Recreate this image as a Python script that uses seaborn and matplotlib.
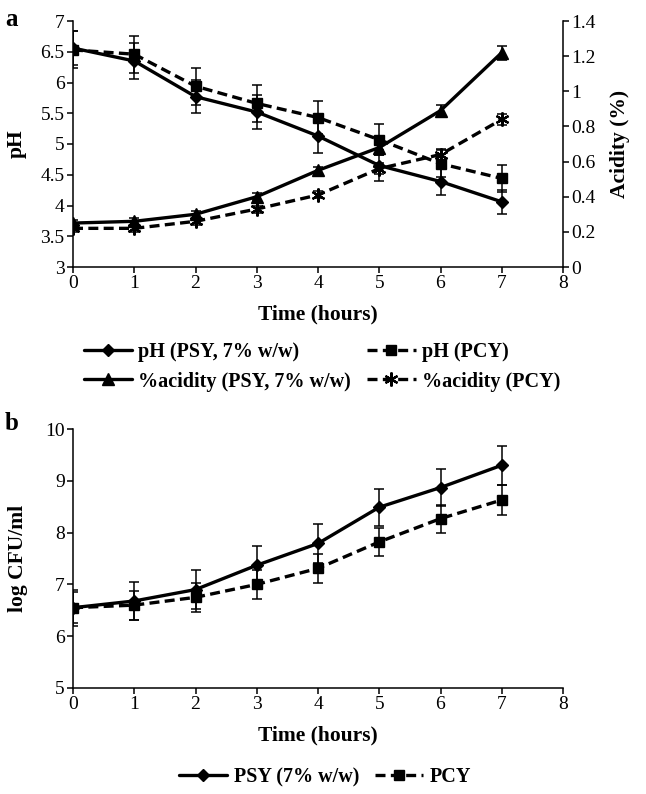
import numpy as np
import pandas as pd
import matplotlib
matplotlib.use("Agg")
import matplotlib.pyplot as plt
import seaborn as sns
from matplotlib.lines import Line2D

sns.set_theme(style="ticks")
plt.rcParams['font.family'] = ['Liberation Serif', 'DejaVu Serif']
for k in ["text.color", "axes.labelcolor", "xtick.color", "ytick.color", "axes.edgecolor"]:
    plt.rcParams[k] = "black"

# ---- data ----
time = [0, 1, 2, 3, 4, 5, 6, 7]

ph_psy = [6.56, 6.35, 5.77, 5.52, 5.13, 4.65, 4.39, 4.06]
ph_psy_err = [0.28, 0.30, 0.27, 0.27, 0.27, 0.25, 0.22, 0.20]
ph_pcy = [6.53, 6.46, 5.94, 5.66, 5.43, 5.07, 4.68, 4.44]
ph_pcy_err = [0.30, 0.30, 0.30, 0.30, 0.27, 0.25, 0.22, 0.22]

ac_psy = [0.25, 0.26, 0.30, 0.40, 0.55, 0.68, 0.89, 1.22]
ac_psy_err = [0.02, 0.02, 0.02, 0.02, 0.02, 0.04, 0.03, 0.04]
ac_pcy = [0.22, 0.22, 0.26, 0.33, 0.41, 0.56, 0.64, 0.84]
ac_pcy_err = [0.02, 0.02, 0.02, 0.02, 0.02, 0.03, 0.03, 0.03]

cfu_psy = [6.55, 6.68, 6.90, 7.37, 7.79, 8.49, 8.87, 9.30]
cfu_psy_err = [0.35, 0.37, 0.37, 0.37, 0.37, 0.36, 0.36, 0.38]
cfu_pcy = [6.55, 6.60, 6.75, 7.00, 7.31, 7.82, 8.27, 8.63]
cfu_pcy_err = [0.30, 0.28, 0.28, 0.28, 0.28, 0.27, 0.27, 0.29]

legend_a = ["pH (PSY, 7% w/w)", "pH (PCY)", "%acidity (PSY, 7% w/w)", "%acidity (PCY)"]
legend_b = ["PSY (7% w/w)", "PCY"]

W, H = 646, 794
fig = plt.figure(figsize=(W / 100, H / 100), dpi=100)

def box(l, t, r, b):
    return [l / W, 1 - b / H, (r - l) / W, (b - t) / H]

ax1 = fig.add_axes(box(73, 21, 563, 267))
ax2 = ax1.twinx()
axb = fig.add_axes(box(73, 429, 563, 688))

LW = 2.4

def series(ax, y, err, marker, dashed, ms, mew=1.0):
    df = pd.DataFrame({"t": time, "v": y})
    ls = (0, (3, 1.6)) if dashed else "-"
    sns.lineplot(data=df, x="t", y="v", ax=ax, color="black", linewidth=LW,
                 linestyle=ls, marker=marker, markersize=ms,
                 markeredgecolor="black", markerfacecolor="black",
                 markeredgewidth=mew, legend=False, zorder=3)
    ax.errorbar(time, y, yerr=err, fmt="none", ecolor="black",
                elinewidth=1.1, capsize=3.5, capthick=1.1, zorder=2)
    return Line2D([0], [0], color="black", linewidth=LW, linestyle=ls,
                  marker=marker, markersize=ms, markeredgecolor="black",
                  markerfacecolor="black", markeredgewidth=mew)

h1 = series(ax1, ph_psy, ph_psy_err, "D", False, 6)
h2 = series(ax1, ph_pcy, ph_pcy_err, "s", True, 7)
h3 = series(ax2, ac_psy, ac_psy_err, "^", False, 8)
h4 = series(ax2, ac_pcy, ac_pcy_err, (6, 2, 0), True, 10, mew=1.6)

hb1 = series(axb, cfu_psy, cfu_psy_err, "D", False, 6)
hb2 = series(axb, cfu_pcy, cfu_pcy_err, "s", True, 7)

tick_fs = 14
lab_fs = 15.5

for ax in (ax1, axb):
    ax.set_xlim(0, 8)
    ax.set_xticks(range(0, 9))
    ax.set_xticklabels([str(i) for i in range(0, 9)], fontsize=tick_fs)
    ax.set_xlabel("Time (hours)", fontsize=lab_fs, fontweight="bold", labelpad=9)
    ax.spines["top"].set_visible(False)
    ax.tick_params(direction="out", length=4, width=1.1, colors="black", pad=2)
    for s in ax.spines.values():
        s.set_linewidth(1.1)
        s.set_color("black")

ax1.set_ylim(3, 7)
ax1.set_yticks([3, 3.5, 4, 4.5, 5, 5.5, 6, 6.5, 7])
ax1.set_yticklabels(["3", "3.5", "4", "4.5", "5", "5.5", "6", "6.5", "7"], fontsize=tick_fs)
ax1.set_ylabel("pH", fontsize=lab_fs, fontweight="bold", labelpad=10)
ax1.spines["right"].set_visible(False)

ax2.set_ylim(0, 1.4)
ax2.set_yticks([0, 0.2, 0.4, 0.6, 0.8, 1.0, 1.2, 1.4])
ax2.set_yticklabels(["0", "0.2", "0.4", "0.6", "0.8", "1", "1.2", "1.4"], fontsize=tick_fs)
ax2.set_ylabel("Acidity (%)", fontsize=lab_fs, fontweight="bold", labelpad=10)
ax2.spines["top"].set_visible(False)
ax2.spines["left"].set_visible(False)
ax2.spines["bottom"].set_visible(False)
ax2.spines["right"].set_linewidth(1.1)
ax2.spines["right"].set_color("black")
ax2.tick_params(direction="out", length=4, width=1.1, colors="black", pad=2)
ax2.set_xlabel("")

axb.set_ylim(5, 10)
axb.set_yticks([5, 6, 7, 8, 9, 10])
axb.set_yticklabels(["5", "6", "7", "8", "9", "10"], fontsize=tick_fs)
axb.set_ylabel("log CFU/ml", fontsize=lab_fs, fontweight="bold", labelpad=12)
axb.spines["right"].set_visible(False)

leg_font = {"size": 14.5, "weight": "bold"}
fig.legend([h1, h3, h2, h4], [legend_a[0], legend_a[2], legend_a[1], legend_a[3]],
           loc="center", ncol=2,
           bbox_to_anchor=(322 / W, 1 - 367 / H), frameon=False, prop=leg_font,
           handlelength=2.4, columnspacing=0.8, handletextpad=0.3, labelspacing=0.45)
fig.legend([hb1, hb2], legend_b, loc="center", ncol=2,
           bbox_to_anchor=(325 / W, 1 - 777 / H), frameon=False, prop=leg_font,
           handlelength=2.4, columnspacing=0.8, handletextpad=0.3)

fig.text(5 / W, 1 - 20 / H, "a", fontsize=18, fontweight="bold", va="center")
fig.text(5 / W, 1 - 423 / H, "b", fontsize=18, fontweight="bold", va="center")

fig.savefig("out.png", dpi=100, facecolor="white")
